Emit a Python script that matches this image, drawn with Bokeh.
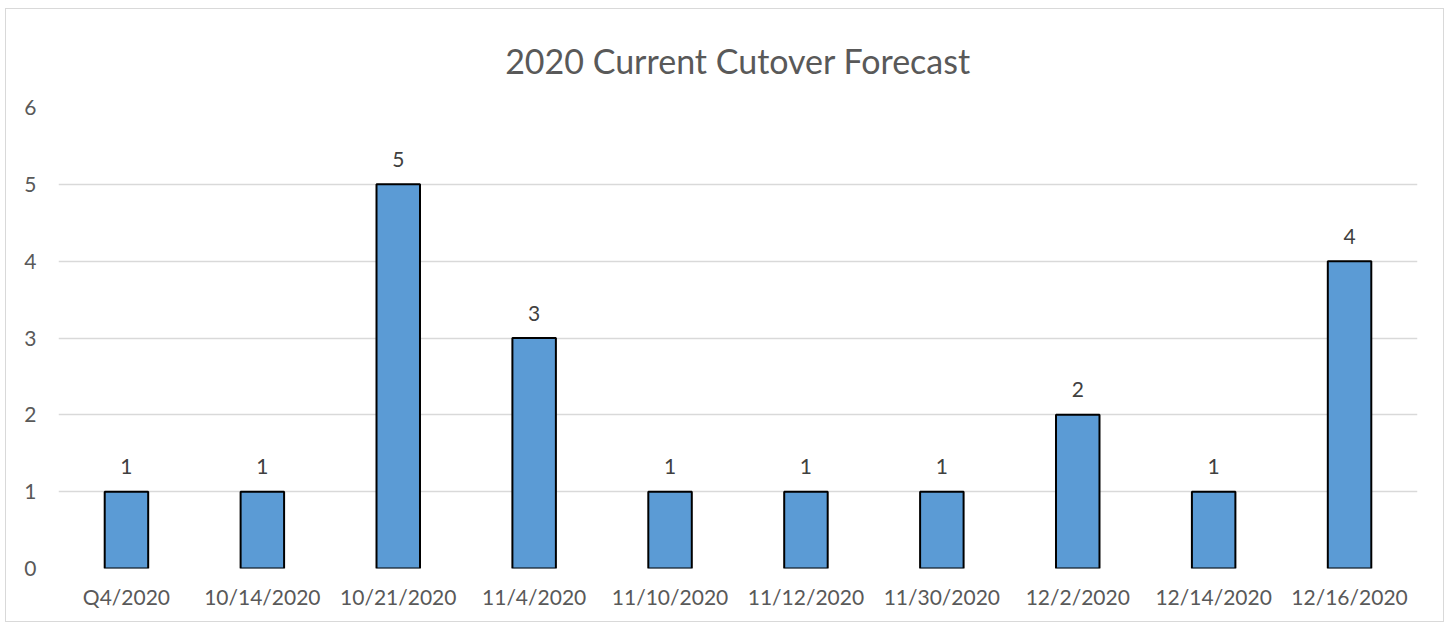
from bokeh.plotting import figure
from bokeh.models import ColumnDataSource, LabelSet, Range1d, FixedTicker
from bokeh.core.properties import value
from bokeh.embed import file_html
from bokeh.resources import INLINE

categories = ["Q4/2020", "10/14/2020", "10/21/2020", "11/4/2020", "11/10/2020",
              "11/12/2020", "11/30/2020", "12/2/2020", "12/14/2020", "12/16/2020"]
counts = [1, 1, 5, 3, 1, 1, 1, 2, 1, 4]
y_ticks = [0, 1, 2, 3, 4, 5, 6]
title_text = "2020 Current Cutover Forecast"

FONT = "Lato"
TXT = "#595959"

source = ColumnDataSource(dict(cat=categories, val=counts,
                               lbl=[str(v) for v in counts]))

p = figure(x_range=categories, y_range=Range1d(0, 6),
           width=1439, height=614, output_backend="svg", toolbar_location=None,
           min_border_left=52, min_border_right=28, min_border_top=98,
           min_border_bottom=55)

p.styles = {"border": "1px solid #d9d9d9", "margin-left": "5px", "margin-top": "8px"}

p.title.text = title_text
p.title.align = "center"
p.title.vertical_align = "top"
p.title.text_font = FONT
p.title.text_font_size = "34px"
p.title.text_font_style = "normal"
p.title.text_color = TXT
p.title.standoff = 50

p.vbar(x="cat", top="val", width=0.32, source=source,
       fill_color="#5B9BD5", line_color="black", line_width=2)

labels = LabelSet(x="cat", y="val", text="lbl", source=source,
                  y_offset=25, text_align="center", text_baseline="middle",
                  text_font=value(FONT), text_font_size="21px", text_color="#404040")
p.add_layout(labels)

p.outline_line_color = None
p.background_fill_color = "white"
p.border_fill_color = "white"

p.xgrid.grid_line_color = None
p.ygrid.grid_line_color = "#d9d9d9"
p.ygrid.grid_line_width = 1.5

p.yaxis.ticker = FixedTicker(ticks=y_ticks)
for ax in (p.xaxis, p.yaxis):
    ax.axis_line_color = None
    ax.major_tick_line_color = None
    ax.minor_tick_line_color = None
    ax.major_label_text_font = FONT
    ax.major_label_text_font_size = "21px"
    ax.major_label_text_color = TXT
p.yaxis.major_label_standoff = 16
p.xaxis.major_label_standoff = 9
p.x_range.range_padding = 0

open("out.html", "w").write(file_html(p, INLINE))
